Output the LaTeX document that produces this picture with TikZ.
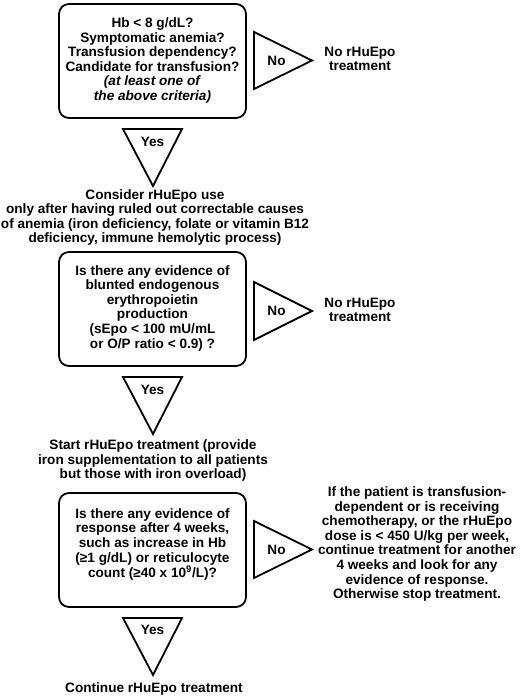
\documentclass[tikz,border=0pt]{standalone}
\usepackage{fontspec}
\setmainfont{Liberation Sans}
\begin{document}
\begin{tikzpicture}[x=1pt,y=-1pt,
  qbox/.style={draw, line width=1.8pt, rounded corners=10pt, minimum width=187pt, minimum height=114pt, inner sep=0pt},
  txt/.style={align=center, inner sep=0pt, font=\fontsize{13.6}{14.6}\selectfont\bfseries},
  tri/.style={draw, line width=1.8pt, line join=miter},
  lbl/.style={inner sep=0pt, font=\fontsize{13.6}{14.6}\selectfont\bfseries}]
\useasboundingbox (0,0) rectangle (520,700);
% Box 1
\node[qbox] (q1) at (152.5,61) {};
\node[txt] (q1t) at (152.5,60.5) {Hb < 8 g/dL?\\Symptomatic anemia?\\Transfusion dependency?\\Candidate for transfusion?\\\textit{(at least one of}\\\textit{the above criteria)}};
\draw[tri] (254,32) -- (254,89) -- (312,60.5) -- cycle;
\node[lbl] (no1) at (276.5,60.5) {No};
\node[txt] (r1) at (360,59) {No rHuEpo\\treatment};
\draw[tri] (123,129) -- (182,129) -- (153,186) -- cycle;
\node[lbl] (yes1) at (152.5,142) {Yes};
\node[txt] (c1) at (155,217.5) {Consider rHuEpo use\\only after having ruled out correctable causes\\of anemia (iron deficiency, folate or vitamin B12\\deficiency, immune hemolytic process)};
% Box 2
\node[qbox] (q2) at (152.5,309) {};
\node[txt] (q2t) at (152.5,308) {Is there any evidence of\\blunted endogenous\\erythropoietin\\production\\(sEpo < 100 mU/mL\\or O/P ratio < 0.9) ?};
\draw[tri] (254,282) -- (254,340) -- (312,311) -- cycle;
\node[lbl] (no2) at (276.5,311) {No};
\node[txt] (r2) at (360,310) {No rHuEpo\\treatment};
\draw[tri] (123,377) -- (182,377) -- (153,434) -- cycle;
\node[lbl] (yes2) at (152.5,390) {Yes};
\node[txt] (c2) at (153,460.5) {Start rHuEpo treatment (provide\\iron supplementation to all patients\\but those with iron overload)};
% Box 3
\node[qbox] (q3) at (152.5,550) {};
\node[txt] (q3t) at (152.5,544.5) {Is there any evidence of\\response after 4 weeks,\\such as increase in Hb\\(≥1 g/dL) or reticulocyte\\count (≥40 x 10\textsuperscript{9}/L)?};
\draw[tri] (254,521) -- (254,578) -- (312,549.5) -- cycle;
\node[lbl] (no3) at (276.5,549.5) {No};
\node[txt] (r3) at (417,544) {If the patient is transfusion-\\dependent or is receiving\\chemotherapy, or the rHuEpo\\dose is < 450 U/kg per week,\\continue treatment for another\\4 weeks and look for any\\evidence of response.\\Otherwise stop treatment.};
\draw[tri] (123,618) -- (182,618) -- (153,675) -- cycle;
\node[lbl] (yes3) at (152.5,630) {Yes};
\node[txt] (c3) at (154,689) {Continue rHuEpo treatment};
\end{tikzpicture}
\end{document}
